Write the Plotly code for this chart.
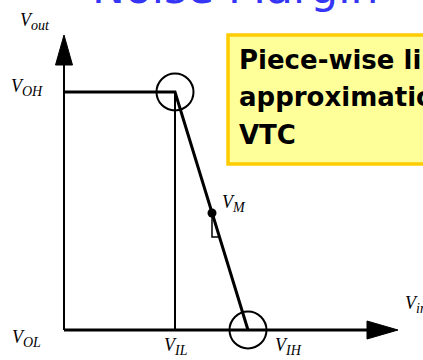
import plotly.graph_objects as go

# ---- diagram data (Vin / Vout in diagram units) ----
VOL = 0.0
VOH = 2.38
VIL = 1.11
VIH = 1.84
VM_IN = 1.48
VM_OUT = 1.17
X_AXIS_END = 3.34
Y_AXIS_END = 2.95

vtc_vin = [0.0, VIL, VIH]
vtc_vout = [VOH, VOH, VOL]
circle_vin = [VIL, VIH]
circle_vout = [VOH, VOL]
slope_vin = [VM_IN, VM_IN, 1.555]
slope_vout = [VM_OUT, 0.93, 0.93]

label_main = ["V", "V", "V", "V", "V", "V", "V"]
label_sub = ["out", "OH", "OL", "IL", "IH", "in", "M"]
label_x = [-0.29, -0.37, -0.38, 1.12, 2.24, 3.39, 1.70]
label_y = [3.09, 2.43, -0.08, -0.16, -0.16, 0.26, 1.27]
label_anchor = ["center", "center", "center", "center", "center", "left", "center"]

title_text = "Noise Margin"
box_lines = ["Piece-wise linear", "approximation of", "VTC"]

fig = go.Figure()

# axes
fig.add_trace(go.Scatter(x=[0, X_AXIS_END - 0.3], y=[0, 0], mode="lines",
                         line=dict(color="black", width=3), hoverinfo="skip"))
fig.add_trace(go.Scatter(x=[0, 0], y=[0, Y_AXIS_END - 0.28], mode="lines",
                         line=dict(color="black", width=2), hoverinfo="skip"))
# arrowheads
fig.add_trace(go.Scatter(x=[X_AXIS_END - 0.31, X_AXIS_END, X_AXIS_END - 0.31, X_AXIS_END - 0.31],
                         y=[0.09, 0, -0.09, 0.09], mode="lines", fill="toself",
                         fillcolor="black", line=dict(color="black", width=1), hoverinfo="skip"))
fig.add_trace(go.Scatter(x=[-0.085, 0, 0.085, -0.085],
                         y=[Y_AXIS_END - 0.30, Y_AXIS_END, Y_AXIS_END - 0.30, Y_AXIS_END - 0.30],
                         mode="lines", fill="toself",
                         fillcolor="black", line=dict(color="black", width=1), hoverinfo="skip"))
# VIL guide
fig.add_trace(go.Scatter(x=[VIL, VIL], y=[VOL, VOH], mode="lines",
                         line=dict(color="black", width=2), hoverinfo="skip"))
# VTC
fig.add_trace(go.Scatter(x=vtc_vin, y=vtc_vout, mode="lines",
                         line=dict(color="black", width=3), hoverinfo="skip"))
# circles
fig.add_trace(go.Scatter(x=circle_vin, y=circle_vout, mode="markers",
                         marker=dict(symbol="circle-open", size=37,
                                     line=dict(color="black", width=2), color="black"),
                         hoverinfo="skip"))
# VM dot
fig.add_trace(go.Scatter(x=[VM_IN], y=[VM_OUT], mode="markers",
                         marker=dict(symbol="circle", size=9, color="black"), hoverinfo="skip"))
# slope triangle
fig.add_trace(go.Scatter(x=slope_vin, y=slope_vout, mode="lines",
                         line=dict(color="black", width=1.5), hoverinfo="skip"))

# labels
for m, s, lx, ly, a in zip(label_main, label_sub, label_x, label_y, label_anchor):
    txt = "<i>" + m + "<sub><span style='font-size:14px'>" + s + "</span></sub></i>"
    fig.add_annotation(x=lx, y=ly, xref="x", yref="y", text=txt,
                       showarrow=False, xanchor=a, yanchor="middle",
                       font=dict(family="Liberation Serif", size=18, color="black"))

# title (cut at top)
fig.add_annotation(x=90 / 423, y=1 + 12 / 360, xref="paper", yref="paper",
                   text=title_text, showarrow=False, xanchor="left", yanchor="middle",
                   font=dict(family="DejaVu Sans", size=44, color="#3535F5"))

# yellow box
fig.add_shape(type="rect", xref="paper", yref="paper",
              x0=228 / 423, x1=1.05, y0=1 - 164 / 360, y1=1 - 35 / 360,
              fillcolor="#FFFF99", line=dict(color="#FFCC00", width=3.5), layer="above")
for txt, cy in zip(box_lines, [59.6, 97, 134.6]):
    fig.add_annotation(x=237 / 423, y=1 - cy / 360, xref="paper", yref="paper",
                       text="<b>" + txt + "</b>", showarrow=False, xanchor="left",
                       yanchor="middle",
                       font=dict(family="DejaVu Sans", size=26, color="black"))

fig.update_layout(width=423, height=360, autosize=False,
                  margin=dict(l=0, r=0, t=0, b=0),
                  paper_bgcolor="white", plot_bgcolor="white",
                  showlegend=False,
                  xaxis=dict(range=[-0.64, 3.59], visible=False, fixedrange=True),
                  yaxis=dict(range=[-0.30, 3.30], visible=False, fixedrange=True))
fig.write_html("out.html", config={"displayModeBar": False, "staticPlot": True},
               post_script="document.body.style.margin='0px';")
